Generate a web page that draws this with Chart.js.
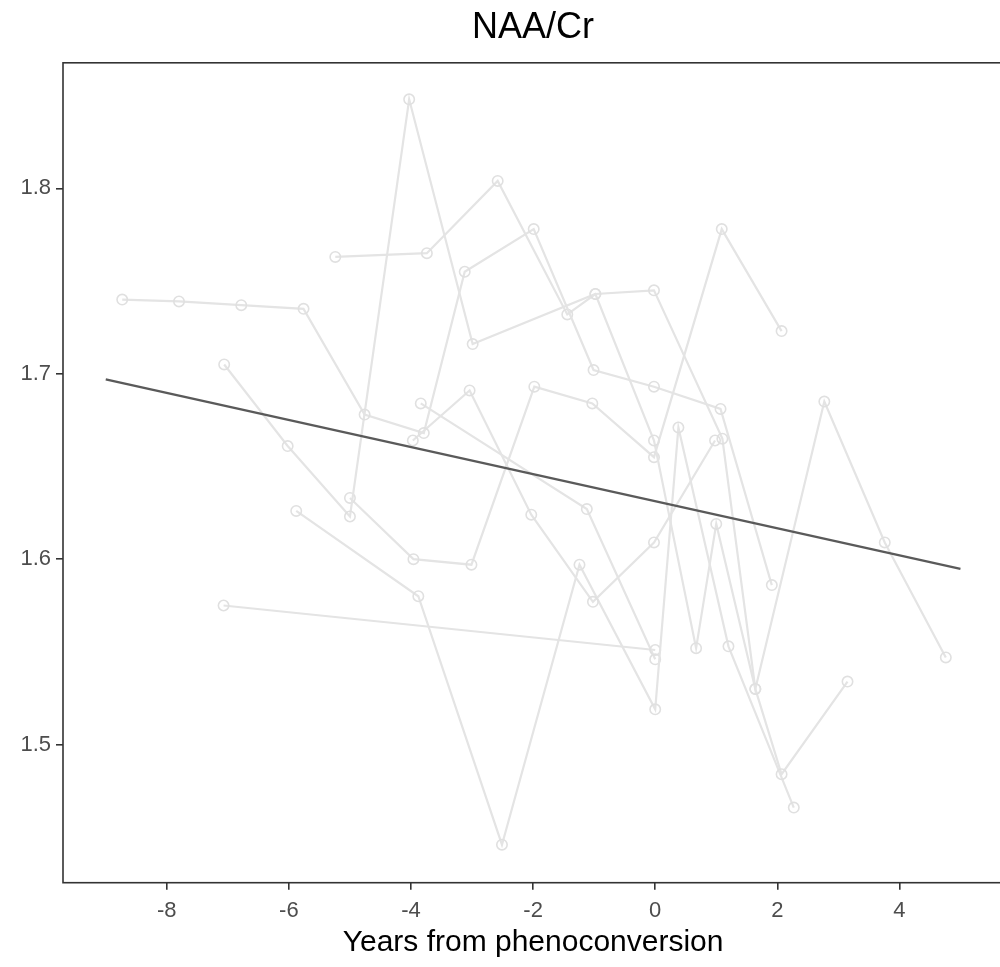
<!DOCTYPE html>
<html>
<head>
<meta charset="utf-8">
<script src="https://cdn.jsdelivr.net/npm/chart.js@4.4.0/dist/chart.umd.min.js"></script>
<style>
    html, body { margin: 0; padding: 0; background: #fff; overflow: hidden; }
    #wrap { width: 1010px; height: 967px; }
</style>
</head>
<body>
<div id="wrap"><canvas id="chart" width="1010" height="967"></canvas></div>
<script>
// Years from phenoconversion per subject
const subjectYears = [
    [-8.73, -7.80, -6.78, -5.76, -4.76, -3.79, -3.12, -1.99, -1.01, -0.02, 1.07, 1.91],
    [-5.24, -3.74, -2.58, -1.44, -0.98, -0.02, 1.10, 1.64, 2.77, 3.76, 4.76],
    [-7.06, -6.02, -5.00, -4.03, -2.99, -0.98, -0.02, 0.67, 1.00, 1.64, 2.07, 3.15],
    [-5.00, -3.96, -3.01, -1.98, -1.03, -0.02, 1.09, 2.07],
    [-3.97, -3.04, -2.03, -1.02, -0.02, 0.98],
    [-5.88, -3.88, -2.51, -1.24, 0.00, 0.38, 1.20, 2.27],
    [-7.07, 0.00],
    [-3.84, -1.12, 0.00]
];
// NAA/Cr per subject, same order
const subjectNaaCr = [
    [1.740, 1.739, 1.737, 1.735, 1.678, 1.668, 1.755, 1.778, 1.702, 1.693, 1.681, 1.586],
    [1.763, 1.765, 1.804, 1.732, 1.743, 1.745, 1.665, 1.530, 1.685, 1.609, 1.547],
    [1.705, 1.661, 1.623, 1.848, 1.716, 1.743, 1.664, 1.552, 1.619, 1.530, 1.484, 1.534],
    [1.633, 1.600, 1.597, 1.693, 1.684, 1.655, 1.778, 1.723],
    [1.664, 1.691, 1.624, 1.577, 1.609, 1.664],
    [1.626, 1.580, 1.446, 1.597, 1.519, 1.671, 1.553, 1.466],
    [1.575, 1.551],
    [1.684, 1.627, 1.546]
];
// fitted trend line
const fitYears = [-9, 5];
const fitNaaCr = [1.697, 1.5947];

const xTicks = [-8, -6, -4, -2, 0, 2, 4];
const yTicks = [1.5, 1.6, 1.7, 1.8];

const FONT = "'Liberation Sans', Arial, sans-serif";

const toPoints = (xs, ys) => xs.map((x, i) => ({ x: x, y: ys[i] }));

const datasets = [{
    data: toPoints(fitYears, fitNaaCr),
    showLine: true,
    borderColor: '#5a5a5a',
    borderWidth: 2.3,
    pointRadius: 0
}];
subjectYears.forEach((xs, i) => {
    datasets.push({
        data: toPoints(xs, subjectNaaCr[i]),
        showLine: true,
        borderColor: '#e4e4e4',
        borderWidth: 2.2,
        pointRadius: 5.2,
        pointBorderWidth: 1.6,
        pointBorderColor: '#e0e0e0',
        pointBackgroundColor: 'rgba(0,0,0,0)'
    });
});

// titre centré sur la zone du graphique, comme ggplot
const centreTitle = {
    id: 'centreTitle',
    afterLayout(chart) {
        const t = chart.titleBlock;
        if (t) {
            t.left = chart.chartArea.left;
            t.right = chart.chartArea.right;
            t.width = t.right - t.left;
        }
    }
};

// cadre du panneau
const panelBorder = {
    id: 'panelBorder',
    afterDraw(chart) {
        const { ctx, chartArea: a } = chart;
        ctx.save();
        ctx.strokeStyle = '#333333';
        ctx.lineWidth = 1.6;
        ctx.strokeRect(a.left, a.top, a.right - a.left, a.bottom - a.top);
        ctx.restore();
    }
};

new Chart(document.getElementById('chart'), {
    type: 'scatter',
    data: { datasets: datasets },
    plugins: [centreTitle, panelBorder],
    options: {
        responsive: false,
        animation: false,
        devicePixelRatio: 1,
        layout: { padding: { left: 0, right: 5, top: 0, bottom: 0 } },
        plugins: {
            legend: { display: false },
            tooltip: { enabled: false },
            title: {
                display: true,
                text: 'NAA/Cr',
                color: '#000',
                font: { family: FONT, size: 36, weight: 'normal' },
                padding: { top: 6, bottom: 13.6 }
            }
        },
        scales: {
            x: {
                type: 'linear',
                min: -9.7,
                max: 5.7,
                afterFit: (s) => { s.height = 84.3; },
                afterBuildTicks: (s) => { s.ticks = xTicks.map(v => ({ value: v })); },
                grid: { display: true, drawOnChartArea: false, drawTicks: true, tickLength: 7, color: '#333333', lineWidth: 1.6 },
                border: { display: false },
                ticks: {
                    padding: 8,
                    color: '#4d4d4d',
                    font: { family: FONT, size: 22 },
                    maxRotation: 0,
                    callback: (v) => String(v)
                },
                title: {
                    display: true,
                    text: 'Years from phenoconversion',
                    color: '#000',
                    font: { family: FONT, size: 30 },
                    padding: { top: 0, bottom: 6 }
                }
            },
            y: {
                type: 'linear',
                min: 1.4255,
                max: 1.8677,
                afterFit: (s) => { s.width = 63; },
                afterBuildTicks: (s) => { s.ticks = yTicks.map(v => ({ value: v })); },
                grid: { display: true, drawOnChartArea: false, drawTicks: true, tickLength: 7, color: '#333333', lineWidth: 1.6 },
                border: { display: false },
                ticks: {
                    padding: 5,
                    color: '#4d4d4d',
                    font: { family: FONT, size: 22 },
                    callback: (v) => v.toFixed(1)
                }
            }
        }
    }
});
</script>
</body>
</html>
